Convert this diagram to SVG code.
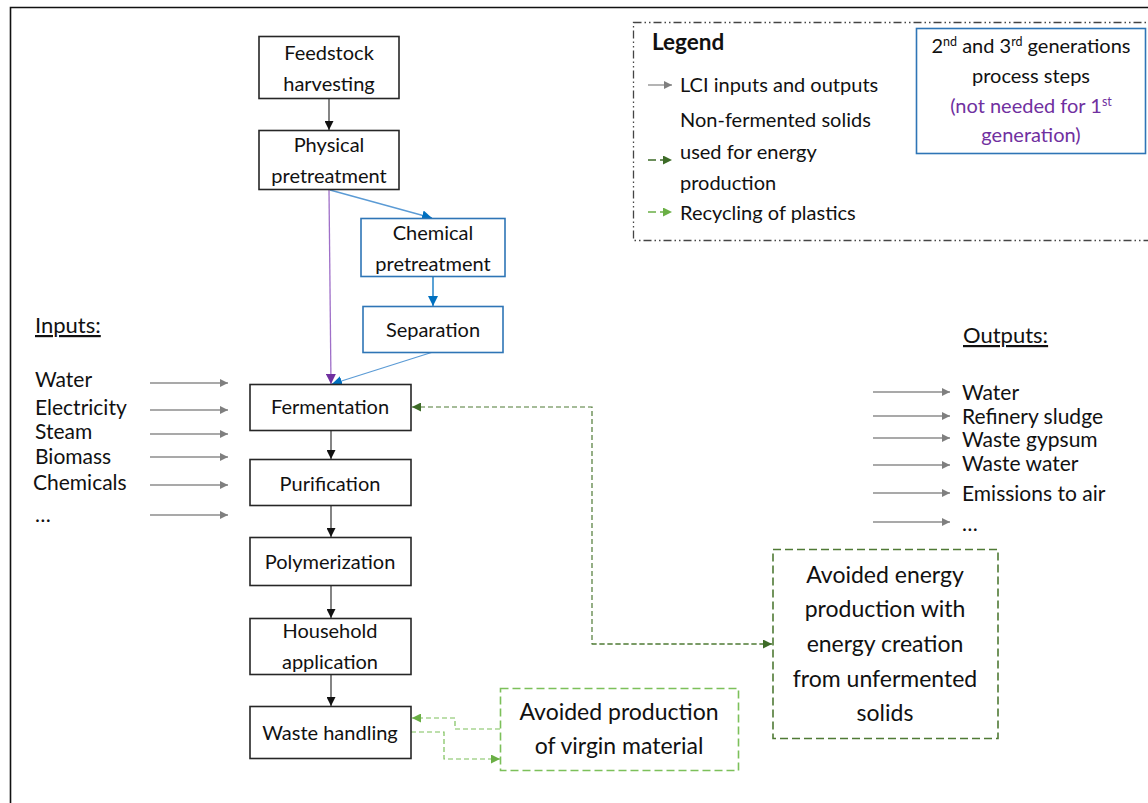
<svg xmlns="http://www.w3.org/2000/svg" width="1148" height="803" viewBox="0 0 1148 803">
<defs>
<style>
text{font-family:Lato,"Liberation Sans",sans-serif;fill:#111;}
.box{fill:#fff;stroke:#262626;stroke-width:1.6;}
.bbox{fill:#fff;stroke:#2E75B6;stroke-width:1.6;}
.bt{font-size:20px;text-anchor:middle;}
.lt{font-size:20px;}
.io{font-size:21px;}
.ar{stroke:#333;stroke-width:1.2;fill:none;}
.gr{stroke:#8c8c8c;stroke-width:1.3;fill:none;}
.dg{stroke:#4f7a35;stroke-width:1.2;fill:none;stroke-dasharray:5 3;}
.lg{stroke:#7cc05a;stroke-width:1.2;fill:none;stroke-dasharray:5 3;}
.pur{fill:#7030A0;}
</style>
<marker id="mk" viewBox="0 0 10 10" refX="10" refY="5" markerWidth="9" markerHeight="9" markerUnits="userSpaceOnUse" orient="auto"><path d="M0,0L10,5L0,10z" fill="#111"/></marker>
<marker id="mg" viewBox="0 0 10 10" refX="10" refY="5" markerWidth="8" markerHeight="8" markerUnits="userSpaceOnUse" orient="auto"><path d="M0,0L10,5L0,10z" fill="#7f7f7f"/></marker>
<marker id="mb" viewBox="0 0 10 10" refX="10" refY="5" markerWidth="10" markerHeight="10" markerUnits="userSpaceOnUse" orient="auto"><path d="M0,0L10,5L0,10z" fill="#0070C0"/></marker>
<marker id="mp" viewBox="0 0 10 10" refX="10" refY="5" markerWidth="10" markerHeight="10" markerUnits="userSpaceOnUse" orient="auto"><path d="M0,0L10,5L0,10z" fill="#7030A0"/></marker>
<marker id="mdg" viewBox="0 0 10 10" refX="10" refY="5" markerWidth="9" markerHeight="9" markerUnits="userSpaceOnUse" orient="auto"><path d="M0,0L10,5L0,10z" fill="#3d6b27"/></marker>
<marker id="mlg" viewBox="0 0 10 10" refX="10" refY="5" markerWidth="9" markerHeight="9" markerUnits="userSpaceOnUse" orient="auto"><path d="M0,0L10,5L0,10z" fill="#6aaf45"/></marker>
</defs>
<rect width="1148" height="803" fill="#fff"/>
<path d="M10.5,803V7.5H1148" fill="none" stroke="#111" stroke-width="1.6"/>

<g id="legend">
<rect x="633.5" y="22.5" width="530" height="218" fill="none" stroke="#444" stroke-width="1.3" stroke-dasharray="8 3 1.5 3 1.5 3"/>
<text x="652" y="50" style="font-size:22.5px;font-weight:bold">Legend</text>
<line x1="648" y1="85" x2="672" y2="85" class="gr" marker-end="url(#mg)"/>
<text x="680" y="92" class="lt">LCI inputs and outputs</text>
<text x="680" y="127" class="lt">Non-fermented  solids</text>
<line x1="648" y1="160" x2="672" y2="160" stroke="#3d6b27" stroke-width="1.6" stroke-dasharray="8 4" marker-end="url(#mdg)"/>
<text x="680" y="159" class="lt">used for energy</text>
<text x="680" y="190" class="lt">production</text>
<line x1="648" y1="212" x2="672" y2="212" stroke="#6aaf45" stroke-width="1.6" stroke-dasharray="8 4" marker-end="url(#mlg)"/>
<text x="680" y="220" class="lt">Recycling of plastics</text>
</g>
<g id="legend-generations">
<rect x="916.5" y="28.5" width="229" height="125" fill="#fff" stroke="#2E75B6" stroke-width="1.6"/>
<text x="1031" y="53" class="bt">2<tspan dy="-7" style="font-size:12.5px">nd</tspan><tspan dy="7"> and 3</tspan><tspan dy="-7" style="font-size:12.5px">rd</tspan><tspan dy="7"> generations</tspan></text>
<text x="1031" y="83" class="bt">process steps</text>
<text x="1031" y="113" class="bt pur">(not needed for 1<tspan dy="-7" style="font-size:12.5px">st</tspan></text>
<text x="1031" y="142" class="bt pur">generation)</text>
</g>

<g id="connectors">
<line x1="329" y1="99" x2="329" y2="130" class="ar" marker-end="url(#mk)"/>
<line x1="330" y1="190" x2="432" y2="218" stroke="#5B9BD5" stroke-width="1.3" marker-end="url(#mb)"/>
<line x1="329" y1="190" x2="331" y2="384" stroke="#9f6fc8" stroke-width="1.3" marker-end="url(#mp)"/>
<line x1="433" y1="276" x2="433" y2="306" stroke="#0070C0" stroke-width="1.3" marker-end="url(#mb)"/>
<line x1="433" y1="352" x2="332" y2="384" stroke="#5B9BD5" stroke-width="1.3" marker-end="url(#mb)"/>
<line x1="331" y1="430" x2="331" y2="459" class="ar" stroke="#666" marker-end="url(#mk)"/>
<line x1="331" y1="505" x2="331" y2="537" class="ar" stroke="#666" marker-end="url(#mk)"/>
<line x1="331" y1="585" x2="331" y2="618" class="ar" stroke="#666" marker-end="url(#mk)"/>
<line x1="331" y1="674" x2="331" y2="706" class="ar" stroke="#666" marker-end="url(#mk)"/>
<path d="M772,644H592V407H412" class="dg" stroke="#7a9a66" marker-end="url(#mdg)"/>
<path d="M592,644H772" class="dg" stroke="#5f8a45" marker-end="url(#mdg)"/>
<path d="M500,729H455V718H412" class="lg" stroke="#9ccf82" marker-end="url(#mlg)"/>
<path d="M411,732H444V759H500" class="lg" stroke="#9ccf82" marker-end="url(#mlg)"/>
<line x1="150" y1="383" x2="228" y2="383" class="gr" marker-end="url(#mg)"/>
<line x1="150" y1="410" x2="228" y2="410" class="gr" marker-end="url(#mg)"/>
<line x1="150" y1="434" x2="228" y2="434" class="gr" marker-end="url(#mg)"/>
<line x1="150" y1="457" x2="228" y2="457" class="gr" marker-end="url(#mg)"/>
<line x1="150" y1="485" x2="228" y2="485" class="gr" marker-end="url(#mg)"/>
<line x1="150" y1="515" x2="228" y2="515" class="gr" marker-end="url(#mg)"/>
<line x1="873" y1="392" x2="950" y2="392" class="gr" marker-end="url(#mg)"/>
<line x1="873" y1="416" x2="950" y2="416" class="gr" marker-end="url(#mg)"/>
<line x1="873" y1="438" x2="950" y2="438" class="gr" marker-end="url(#mg)"/>
<line x1="873" y1="465" x2="950" y2="465" class="gr" marker-end="url(#mg)"/>
<line x1="873" y1="493" x2="950" y2="493" class="gr" marker-end="url(#mg)"/>
<line x1="873" y1="522" x2="950" y2="522" class="gr" marker-end="url(#mg)"/>
</g>

<g id="feedstock"><rect x="259" y="36.5" width="140" height="62" class="box"/><text x="329" y="60" class="bt">Feedstock</text><text x="329" y="91" class="bt">harvesting</text></g>
<g id="physical"><rect x="259" y="130.5" width="140" height="59" class="box"/><text x="329" y="152" class="bt">Physical</text><text x="329" y="183" class="bt">pretreatment</text></g>
<g id="chemical"><rect x="361" y="218.5" width="144" height="58" class="bbox"/><text x="433" y="240" class="bt">Chemical</text><text x="433" y="271" class="bt">pretreatment</text></g>
<g id="separation"><rect x="363" y="306.5" width="140" height="46" class="bbox"/><text x="433" y="337" class="bt">Separation</text></g>
<g id="fermentation"><rect x="250" y="384.5" width="161" height="46" class="box"/><text x="330" y="414" class="bt">Fermentation</text></g>
<g id="purification"><rect x="250" y="459.5" width="161" height="46" class="box"/><text x="330" y="491" class="bt">Purification</text></g>
<g id="polymerization"><rect x="250" y="537.5" width="161" height="48" class="box"/><text x="330" y="569" class="bt">Polymerization</text></g>
<g id="household"><rect x="250" y="618.5" width="161" height="56" class="box"/><text x="330" y="638" class="bt">Household</text><text x="330" y="669" class="bt">application</text></g>
<g id="waste"><rect x="250" y="706.5" width="161" height="52" class="box"/><text x="330" y="740" class="bt">Waste handling</text></g>

<g id="avoided-virgin"><rect x="500.5" y="688.5" width="238" height="82" fill="#fff" stroke="#7cc05a" stroke-width="1.6" stroke-dasharray="8 4"/><text x="619" y="720" class="bt" style="font-size:23px">Avoided production</text><text x="619" y="754" class="bt" style="font-size:23px">of virgin material</text></g>
<g id="avoided-energy"><rect x="773" y="549.5" width="225" height="189" fill="#fff" stroke="#4f7a35" stroke-width="1.6" stroke-dasharray="8 4"/>
<text x="885" y="583" class="bt" style="font-size:23px">Avoided energy</text>
<text x="885" y="617" class="bt" style="font-size:23px">production with</text>
<text x="885" y="652" class="bt" style="font-size:23px">energy creation</text>
<text x="885" y="687" class="bt" style="font-size:23px">from unfermented</text>
<text x="885" y="721" class="bt" style="font-size:23px">solids</text></g>

<g id="inputs">
<text x="35" y="333" class="io" style="font-size:22px" text-decoration="underline">Inputs:</text>
<text x="35" y="387" class="io">Water</text>
<text x="35" y="415" class="io">Electricity</text>
<text x="35" y="439" class="io">Steam</text>
<text x="35" y="464" class="io">Biomass</text>
<text x="33" y="490" class="io">Chemicals</text>
<text x="35" y="522" class="io">…</text>
</g>
<g id="outputs">
<text x="963" y="343" class="io" style="font-size:22px" text-decoration="underline">Outputs:</text>
<text x="962" y="400" class="io">Water</text>
<text x="962" y="424" class="io">Refinery sludge</text>
<text x="962" y="447" class="io">Waste gypsum</text>
<text x="962" y="471" class="io">Waste water</text>
<text x="962" y="501" class="io">Emissions to air</text>
<text x="962" y="531" class="io">…</text>
</g>
</svg>
